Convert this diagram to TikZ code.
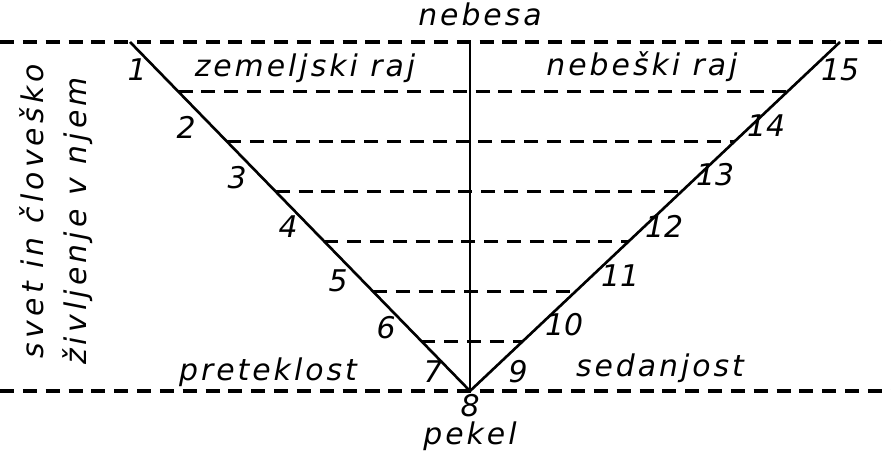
\documentclass[tikz,border=0pt]{standalone}
\usepackage{fontspec}
\setmainfont{DejaVu Sans}
\usetikzlibrary{positioning}

\begin{document}
\begin{tikzpicture}[x=0.02cm, y=-0.02cm, line width=1.5pt,
  every node/.style={font=\fontsize{17}{20}\selectfont\itshape\addfontfeature{LetterSpace=10}},
  level/.style={line width=1.8pt, dash pattern=on 8pt off 5pt},
  num/.style={font=\fontsize{17}{20}\selectfont\itshape},
  side/.style={rotate=90, font=\fontsize{17}{20}\selectfont\itshape\addfontfeature{LetterSpace=14}}]
  \useasboundingbox (0,0) rectangle (891,453);
  \coordinate (westT) at (0,42);
  \coordinate (eastT) at (891,42);
  \coordinate (westB) at (0,391);
  \coordinate (eastB) at (891,391);
  \coordinate (topL) at (130,42);
  \coordinate (topR) at (840,42);
  \coordinate (top) at (470,42);
  \coordinate (apex) at (470,391);
  \draw[level] (westT) -- (eastT);
  \draw[level] (westB) -- (eastB);
  \foreach \k in {1,...,6} {
    \path (topL) -- (apex) coordinate[pos=\k/7] (L\k);
    \path (topR) -- (apex) coordinate[pos=\k/7] (R\k);
    \draw[level] (L\k) -- (R\k);
  }
  \draw (topL) -- (apex) -- (topR);
  \draw (top) -- (apex);
  \foreach \n/\x/\y in {1/137/70, 2/186/127, 3/237/178, 4/288/227, 5/338/281,
      6/386/328, 7/433/372, 8/470/406, 9/518/372, 10/564/325, 11/620/276,
      12/664/226, 13/715/175, 14/766/126, 15/840/70}
    \node[num] (n\n) at (\x,\y) {\n};
  \node (nebesa) at (480,14) {nebesa};
  \node (zemraj) at (305,68) {zemeljski raj};
  \node (nebraj) at (642,67) {nebeški raj};
  \node (pretek) at (268,372) {preteklost};
  \node (sedanj) at (660,368) {sedanjost};
  \node (pekel) at (470,436) {pekel};
  \node[side] (svet) at (32,211) {svet in človeško};
  \node[side] (zivlj) at (78,221) {življenje v njem};
\end{tikzpicture}
\end{document}
